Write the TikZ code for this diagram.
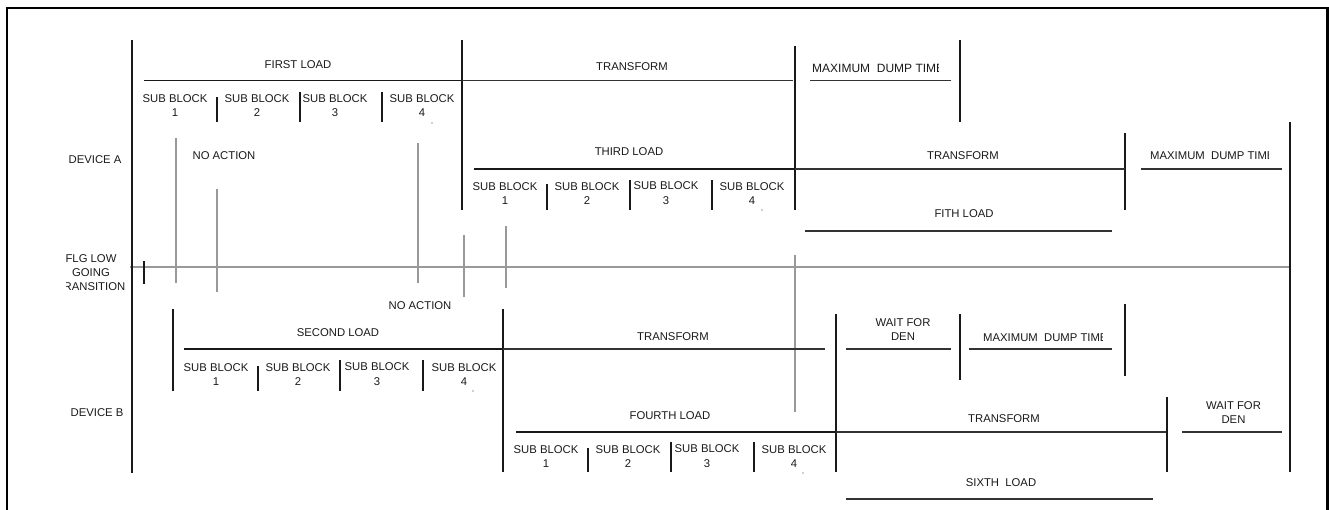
\documentclass[tikz,border=0pt]{standalone}
\usepackage{fontspec}
\setmainfont{Liberation Sans}
\begin{document}
\begin{tikzpicture}[x=1pt,y=-1pt,
  lbl/.style={inner sep=0pt,font=\fontsize{11.3}{14.5}\selectfont,text=black!90},
  two/.style={lbl,align=center},
  blk/.style={draw=black!90,line width=1.3pt},
  gry/.style={draw=black!40,line width=1.2pt},
  loadln/.style={draw=black!90,line width=1.9pt},
  ln/.style={draw=black!80,line width=1.4pt},
  frame/.style={draw=black,line width=2.4pt},
  dotmark/.style={fill=black!80,draw=none}]
\useasboundingbox (0,0) rectangle (1329,509);
% frame
\draw[frame] (7,512) -- (7,8) -- (1327.5,8) -- (1327.5,512);

% ---------- gray reference lines ----------
\draw[gry] (130,267) -- (1290,267);
\draw[gry] (176,138) -- (176,283);
\draw[gry] (217,189) -- (217,292);
\draw[gry] (418,143) -- (418,283);
\draw[gry] (464,235) -- (464,297);
\draw[gry] (506,226) -- (506,288);
\draw[gry] (795,255) -- (795,412);

% ---------- black verticals ----------
\draw[blk] (132,40) -- (132,473);
\draw[blk] (462,40) -- (462,210);
\draw[blk] (795,46) -- (795,210);
\draw[blk] (960,40) -- (960,122);
\draw[blk] (1125,133) -- (1125,210);
\draw[blk] (1290,122) -- (1290,472);
\draw[blk] (144,261) -- (144,284);
\draw[blk] (173,309) -- (173,391);
\draw[blk] (503,309) -- (503,472);
\draw[blk] (836,314) -- (836,472);
\draw[blk] (960,314) -- (960,380);
\draw[blk] (1125,304) -- (1125,376);
\draw[blk] (1167,397) -- (1167,472);
% sub block separators
\draw[blk] (217,97) -- (217,122);  \draw[blk] (300,92) -- (300,122);  \draw[blk] (382,92) -- (382,122);
\draw[blk] (547,184) -- (547,210); \draw[blk] (630,180) -- (630,210); \draw[blk] (712,180) -- (712,210);
\draw[blk] (258,366) -- (258,391); \draw[blk] (340,360) -- (340,391); \draw[blk] (423,360) -- (423,391);
\draw[blk] (588,448) -- (588,472); \draw[blk] (671,442) -- (671,472); \draw[blk] (754,442) -- (754,472);

% ---------- horizontal lines ----------
\draw[loadln] (144,80.5) -- (462,80.5);
\draw[ln] (462,80.5) -- (793,80.5);
\draw[ln] (810,80.5) -- (951,80.5);
\draw[loadln] (474,169) -- (795,169);
\draw[ln] (795,169) -- (1125,169);
\draw[ln] (1141,169) -- (1282,169);
\draw[ln] (805,231) -- (1112,231);
\draw[loadln] (184,349) -- (503,349);
\draw[ln] (503,349) -- (825,349);
\draw[ln] (846,349) -- (951,349);
\draw[ln] (969,349) -- (1112,349);
\draw[loadln] (516,432) -- (836,432);
\draw[ln] (836,432) -- (1166,432);
\draw[ln] (1182,432) -- (1282,432);
\draw[ln] (846,499) -- (1153,499);

% small dots
\fill[dotmark] (432,123) circle (0.7);
\fill[dotmark] (762,210) circle (0.7);
\fill[dotmark] (473,391) circle (0.7);
\fill[dotmark] (803,473) circle (0.7);

% ---------- labels ----------
\node[lbl] (devA) at (95,160) {DEVICE A};
\node[lbl] (devB) at (97,413) {DEVICE B};
\begin{scope}
  \clip (66,240) rectangle (130,300);
  \node[two,font=\fontsize{11.3}{14}\selectfont] (flg) at (91,273) {FLG LOW\\GOING\\TRANSITION};
\end{scope}

% device A, first row
\node[lbl] (first) at (298,65) {FIRST LOAD};
\node[lbl] (tA1) at (632,67) {TRANSFORM};
\begin{scope}
  \clip (800,50) rectangle (938,80);
  \node[lbl,anchor=west,font=\fontsize{12}{14}\selectfont] (maxA1) at (812,68) {MAXIMUM\ \ DUMP TIME};
\end{scope}
\node[two] (a1s1) at (175,105.4) {SUB BLOCK\\1};
\node[two] (a1s2) at (257,105.4) {SUB BLOCK\\2};
\node[two] (a1s3) at (335,105.4) {SUB BLOCK\\3};
\node[two] (a1s4) at (422,105.4) {SUB BLOCK\\4};
\node[lbl] (noact1) at (224,156) {NO ACTION};

% device A, second row
\node[lbl] (third) at (629,152) {THIRD LOAD};
\node[two] (a2s1) at (505,193.3) {SUB BLOCK\\1};
\node[two] (a2s2) at (587,193.3) {SUB BLOCK\\2};
\node[two] (a2s3) at (666,193.3) {SUB BLOCK\\3};
\node[two] (a2s4) at (752,193.3) {SUB BLOCK\\4};
\node[lbl] (tA2) at (963,156) {TRANSFORM};
\begin{scope}
  \clip (1140,140) rectangle (1268.6,168);
  \node[lbl,anchor=west] (maxA2) at (1150,156) {MAXIMUM\ \ DUMP TIME};
\end{scope}
\node[lbl] (fith) at (964,214) {FITH LOAD};

% device B, first row
\node[lbl] (noact2) at (420,306) {NO ACTION};
\node[lbl] (second) at (338,333) {SECOND LOAD};
\node[two] (b1s1) at (216,374.3) {SUB BLOCK\\1};
\node[two] (b1s2) at (298,374.3) {SUB BLOCK\\2};
\node[two] (b1s3) at (377,374.3) {SUB BLOCK\\3};
\node[two] (b1s4) at (464,374.3) {SUB BLOCK\\4};
\node[lbl] (tB1) at (673,337) {TRANSFORM};
\node[two] (waitB1) at (903,329.3) {WAIT FOR\\DEN};
\begin{scope}
  \clip (970,320) rectangle (1102.3,348);
  \node[lbl,anchor=west] (maxB1) at (983,338) {MAXIMUM\ \ DUMP TIME};
\end{scope}

% device B, second row
\node[lbl] (fourth) at (670,416) {FOURTH LOAD};
\node[two] (b2s1) at (546,456.3) {SUB BLOCK\\1};
\node[two] (b2s2) at (628,456.3) {SUB BLOCK\\2};
\node[two] (b2s3) at (707,456.3) {SUB BLOCK\\3};
\node[two] (b2s4) at (794,456.3) {SUB BLOCK\\4};
\node[lbl] (tB2) at (1004,419) {TRANSFORM};
\node[two] (waitB2) at (1233.5,412.3) {WAIT FOR\\DEN};
\node[lbl] (sixth) at (1001,483) {SIXTH\ \ LOAD};
\end{tikzpicture}
\end{document}
